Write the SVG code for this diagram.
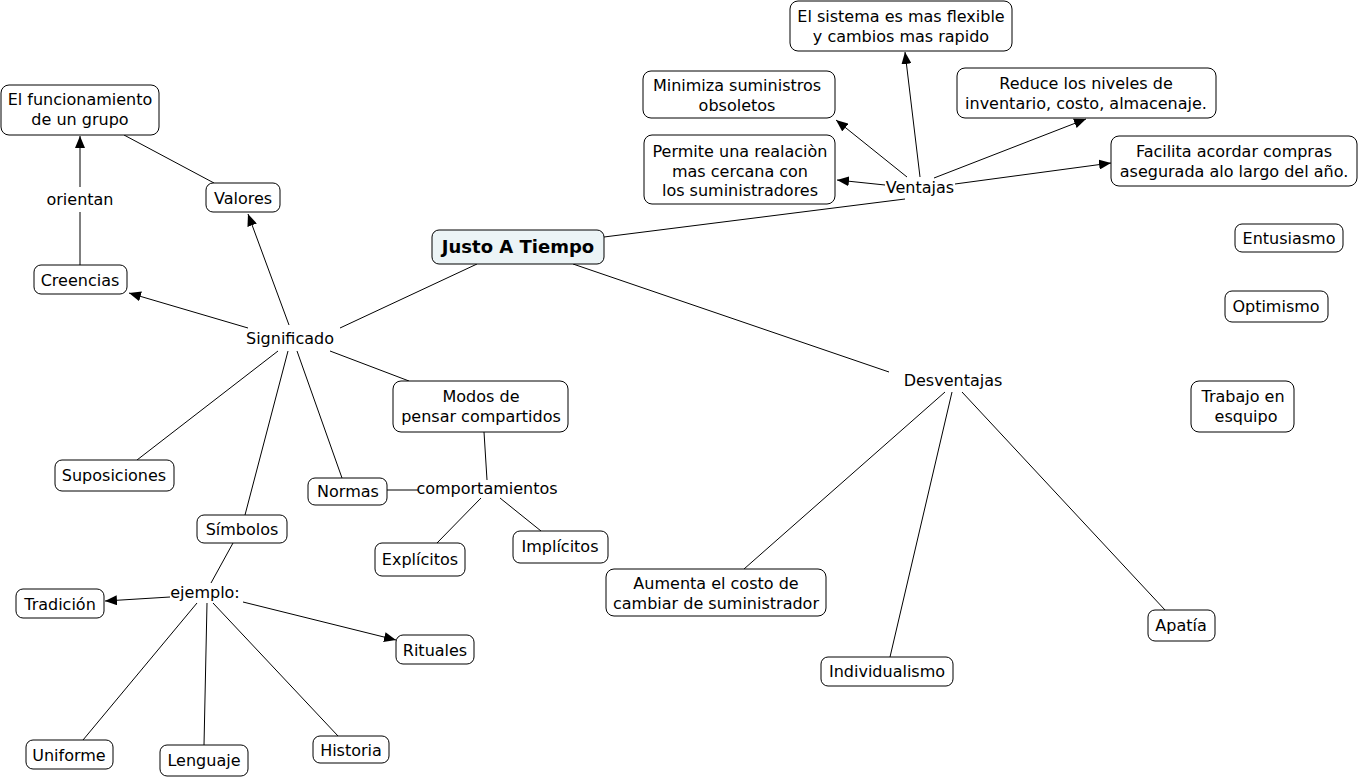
<svg xmlns="http://www.w3.org/2000/svg" width="1360" height="779" viewBox="0 0 1360 779">
<style>
  text { font-family: "DejaVu Sans", Verdana, sans-serif; font-size: 16px; fill: #000; text-anchor: middle; }
  .box { fill: #fff; stroke: #000; stroke-width: 1; }
  .main { fill: #ecf4f6; stroke: #000; stroke-width: 1; }
  .bold { font-weight: bold; font-size: 18px; }
  .c { stroke: #000; stroke-width: 1; fill: none; }
  .a { stroke: #000; stroke-width: 1; fill: none; marker-end: url(#arr); }
</style>
<defs>
  <marker id="arr" viewBox="0 0 12 10" refX="12" refY="5" markerWidth="12" markerHeight="10" markerUnits="userSpaceOnUse" orient="auto">
    <path d="M0,0 L12,5 L0,10 Z" fill="#000"/>
  </marker>
</defs>
<rect width="1360" height="779" fill="#fff"/>
<g id="connectors">
  <line class="c" x1="80" y1="265" x2="80" y2="212"/>
  <line class="a" x1="80" y1="187" x2="80" y2="136"/>
  <line class="c" x1="214" y1="183" x2="124" y2="135"/>
  <line class="a" x1="289" y1="325" x2="248" y2="214"/>
  <line class="a" x1="248" y1="328" x2="129" y2="293"/>
  <line class="c" x1="477" y1="264" x2="340" y2="328"/>
  <line class="c" x1="278" y1="351" x2="137" y2="460"/>
  <line class="c" x1="288" y1="351" x2="245" y2="515"/>
  <line class="c" x1="297" y1="351" x2="342" y2="478"/>
  <line class="c" x1="330" y1="351" x2="409" y2="381"/>
  <line class="c" x1="604" y1="237" x2="905" y2="199"/>
  <line class="a" x1="885" y1="185" x2="837" y2="180"/>
  <line class="a" x1="907" y1="177" x2="836" y2="120"/>
  <line class="a" x1="920" y1="177" x2="905" y2="52"/>
  <line class="a" x1="934" y1="178" x2="1086" y2="119"/>
  <line class="a" x1="955" y1="184" x2="1111" y2="163"/>
  <line class="c" x1="573" y1="264" x2="889" y2="372"/>
  <line class="c" x1="945" y1="392" x2="744" y2="569"/>
  <line class="c" x1="952" y1="392" x2="890" y2="657"/>
  <line class="c" x1="962" y1="392" x2="1165" y2="610"/>
  <line class="c" x1="484" y1="432" x2="487" y2="480"/>
  <line class="c" x1="387" y1="490" x2="418" y2="490"/>
  <line class="c" x1="481" y1="498" x2="437" y2="543"/>
  <line class="c" x1="500" y1="498" x2="541" y2="531"/>
  <line class="c" x1="233" y1="543" x2="211" y2="583"/>
  <line class="a" x1="170" y1="597" x2="105" y2="601"/>
  <line class="a" x1="243" y1="602" x2="396" y2="640"/>
  <line class="c" x1="197" y1="603" x2="83" y2="740"/>
  <line class="c" x1="207" y1="603" x2="204" y2="745"/>
  <line class="c" x1="213" y1="603" x2="338" y2="736"/>
</g>
<g id="n-funcionamiento"><rect class="box" x="1" y="85" width="158" height="50" rx="8"/><text x="80" y="105">El funcionamiento</text><text x="80" y="125">de un grupo</text></g>
<g id="n-valores"><rect class="box" x="206" y="183" width="74" height="29" rx="7"/><text x="243" y="204">Valores</text></g>
<g id="n-creencias"><rect class="box" x="34" y="265" width="93" height="29" rx="7"/><text x="80" y="286">Creencias</text></g>
<g id="l-orientan"><text x="80" y="205">orientan</text></g>
<g id="n-justo"><rect class="main" x="432" y="230" width="172" height="34" rx="7"/><text class="bold" x="518" y="253">Justo A Tiempo</text></g>
<g id="l-significado"><text x="290" y="344">Significado</text></g>
<g id="l-ventajas"><text x="920" y="193">Ventajas</text></g>
<g id="l-desventajas"><text x="953" y="386">Desventajas</text></g>
<g id="l-comportamientos"><text x="487" y="494">comportamientos</text></g>
<g id="l-ejemplo"><text x="205" y="598">ejemplo:</text></g>
<g id="n-sistema"><rect class="box" x="790" y="1" width="222" height="50" rx="8"/><text x="901" y="22">El sistema es mas flexible</text><text x="901" y="42">y cambios mas rapido</text></g>
<g id="n-minimiza"><rect class="box" x="643" y="71" width="192" height="47" rx="8"/><text x="737" y="91">Minimiza suministros</text><text x="737" y="111">obsoletos</text></g>
<g id="n-reduce"><rect class="box" x="957" y="68" width="259" height="50" rx="8"/><text x="1086" y="89">Reduce los niveles de</text><text x="1086" y="109">inventario, costo, almacenaje.</text></g>
<g id="n-permite"><rect class="box" x="644" y="135" width="191" height="69" rx="8"/><text x="740" y="157">Permite una realaciòn</text><text x="740" y="177">mas cercana con</text><text x="740" y="196">los suministradores</text></g>
<g id="n-facilita"><rect class="box" x="1111" y="136" width="246" height="50" rx="8"/><text x="1234" y="157">Facilita acordar compras</text><text x="1234" y="177">asegurada alo largo del año.</text></g>
<g id="n-entusiasmo"><rect class="box" x="1235" y="224" width="108" height="28" rx="7"/><text x="1289" y="244">Entusiasmo</text></g>
<g id="n-optimismo"><rect class="box" x="1225" y="291" width="103" height="31" rx="7"/><text x="1276" y="312">Optimismo</text></g>
<g id="n-trabajo"><rect class="box" x="1191" y="381" width="103" height="51" rx="8"/><text x="1243" y="402">Trabajo en</text><text x="1246" y="422">esquipo</text></g>
<g id="n-aumenta"><rect class="box" x="606" y="569" width="220" height="47" rx="8"/><text x="716" y="589">Aumenta el costo de</text><text x="716" y="609">cambiar de suministrador</text></g>
<g id="n-individualismo"><rect class="box" x="821" y="657" width="132" height="29" rx="7"/><text x="887" y="677">Individualismo</text></g>
<g id="n-apatia"><rect class="box" x="1148" y="610" width="67" height="31" rx="7"/><text x="1181" y="631">Apatía</text></g>
<g id="n-modos"><rect class="box" x="393" y="381" width="175" height="51" rx="8"/><text x="481" y="402">Modos de</text><text x="481" y="422">pensar compartidos</text></g>
<g id="n-normas"><rect class="box" x="308" y="478" width="79" height="27" rx="7"/><text x="348" y="497">Normas</text></g>
<g id="n-explicitos"><rect class="box" x="375" y="543" width="90" height="33" rx="7"/><text x="420" y="565">Explícitos</text></g>
<g id="n-implicitos"><rect class="box" x="513" y="531" width="95" height="32" rx="7"/><text x="560" y="552">Implícitos</text></g>
<g id="n-suposiciones"><rect class="box" x="55" y="460" width="119" height="31" rx="7"/><text x="114" y="481">Suposiciones</text></g>
<g id="n-simbolos"><rect class="box" x="197" y="515" width="90" height="28" rx="7"/><text x="242" y="535">Símbolos</text></g>
<g id="n-tradicion"><rect class="box" x="16" y="589" width="88" height="29" rx="7"/><text x="60" y="610">Tradición</text></g>
<g id="n-rituales"><rect class="box" x="396" y="635" width="78" height="29" rx="7"/><text x="435" y="656">Rituales</text></g>
<g id="n-uniforme"><rect class="box" x="26" y="740" width="87" height="29" rx="7"/><text x="69" y="761">Uniforme</text></g>
<g id="n-lenguaje"><rect class="box" x="160" y="745" width="88" height="31" rx="7"/><text x="204" y="766">Lenguaje</text></g>
<g id="n-historia"><rect class="box" x="313" y="736" width="76" height="27" rx="7"/><text x="351" y="756">Historia</text></g>
</svg>
